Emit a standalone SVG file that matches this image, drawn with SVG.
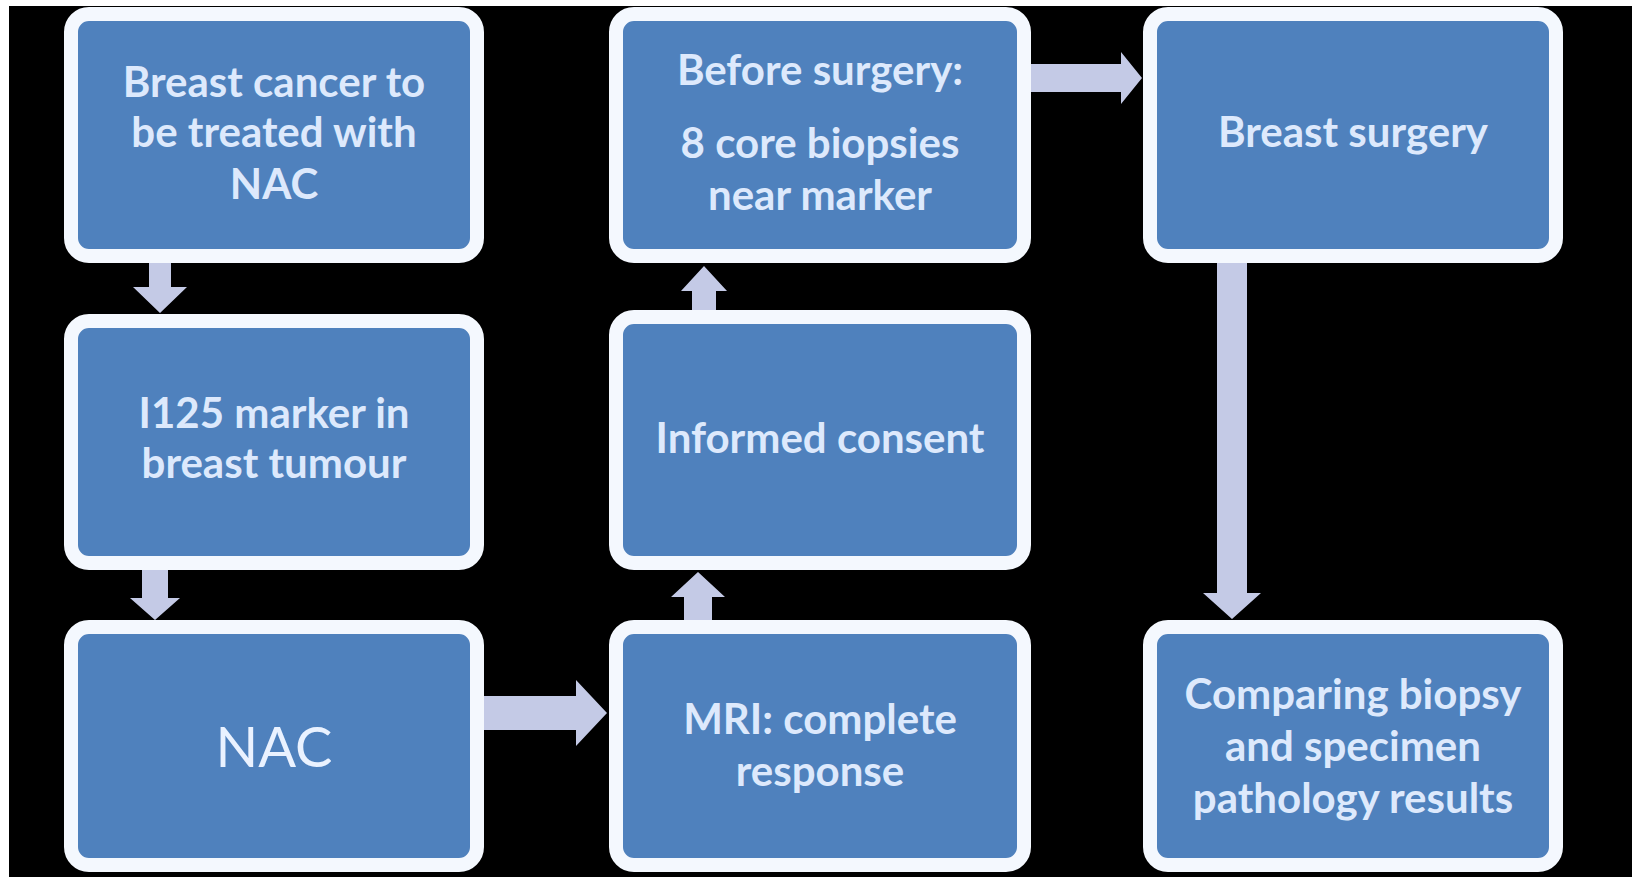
<svg xmlns="http://www.w3.org/2000/svg" width="1632" height="877" viewBox="0 0 1632 877">
<style>
.box{fill:#4f81bd;stroke:#f4f8fe;stroke-width:14}
.t{font-family:Lato,"Open Sans","Liberation Sans",sans-serif;font-size:42px;font-weight:bold;fill:#dde9fc;text-anchor:middle}
.big{font-size:56px;font-weight:normal;fill:#eaf2ff}
.arr{fill:#c4cae6}
</style>
<rect x="0" y="0" width="1632" height="877" fill="#000"/>
<rect x="0" y="0" width="1632" height="6" fill="#fff"/>
<rect x="0" y="0" width="9" height="877" fill="#fff"/>
<g id="n1"><rect class="box" x="71" y="14" width="406" height="242" rx="18"/>
<text class="t" x="274" y="97">Breast cancer to</text><text class="t" x="274" y="147">be treated with</text><text class="t" x="274" y="199">NAC</text></g>
<g id="n2"><rect class="box" x="71" y="321" width="406" height="242" rx="18"/>
<text class="t" x="274" y="428">I125 marker in</text><text class="t" x="274" y="478">breast tumour</text></g>
<g id="n3"><rect class="box" x="71" y="627" width="406" height="238" rx="18"/>
<text class="t big" x="274" y="767">NAC</text></g>
<g id="n4"><rect class="box" x="616" y="14" width="408" height="242" rx="18"/>
<text class="t" x="820" y="85">Before surgery:</text><text class="t" x="820" y="158">8 core biopsies</text><text class="t" x="820" y="210">near marker</text></g>
<g id="n5"><rect class="box" x="616" y="317" width="408" height="246" rx="18"/>
<text class="t" x="820" y="453">Informed consent</text></g>
<g id="n6"><rect class="box" x="616" y="627" width="408" height="238" rx="18"/>
<text class="t" x="820" y="734">MRI: complete</text><text class="t" x="820" y="786">response</text></g>
<g id="n7"><rect class="box" x="1150" y="14" width="406" height="242" rx="18"/>
<text class="t" x="1353" y="147">Breast surgery</text></g>
<g id="n8"><rect class="box" x="1150" y="627" width="406" height="238" rx="18"/>
<text class="t" x="1353" y="709">Comparing biopsy</text><text class="t" x="1353" y="761">and specimen</text><text class="t" x="1353" y="813">pathology results</text></g>
<g id="connectors" class="arr">
<polygon points="149,263 149,287 133,287 160,313 187,287 171,287 171,263"/>
<polygon points="142,570 142,598 130,598 155,620 180,598 168,598 168,570"/>
<polygon points="484,696 576,696 576,680 607,713 576,746 576,730 484,730"/>
<polygon points="1031,64 1121,64 1121,52 1142,78 1121,104 1121,92 1031,92"/>
<polygon points="684,620 684,597 671,597 698,572 725,597 712,597 712,620"/>
<polygon points="692,310 692,291 681,291 704,266 727,291 716,291 716,310"/>
<polygon points="1217,263 1217,593 1203,593 1232,619 1261,593 1247,593 1247,263"/>
</g>
</svg>
